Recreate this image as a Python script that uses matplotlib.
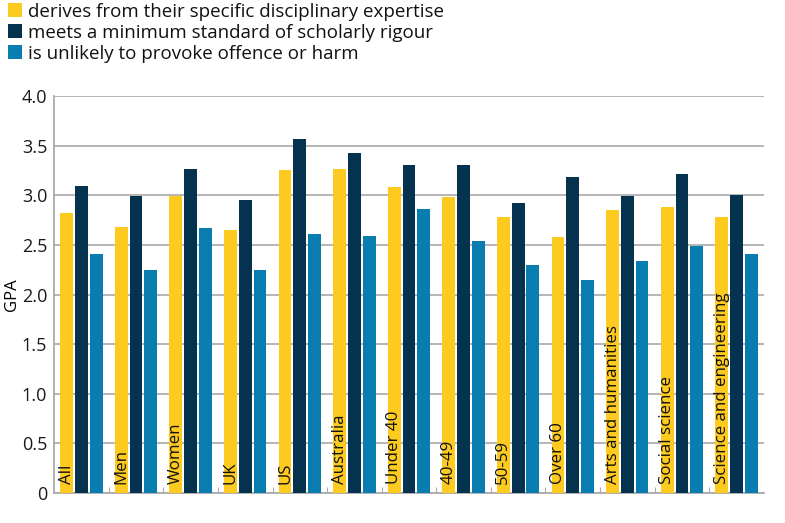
import matplotlib.pyplot as plt
import numpy as np

plt.rcParams['font.family'] = ['Open Sans', 'DejaVu Sans']

categories = ["All", "Men", "Women", "UK", "US", "Australia", "Under 40",
              "40-49", "50-59", "Over 60", "Arts and humanities",
              "Social science", "Science and engineering"]
expertise = [2.82, 2.68, 2.99, 2.65, 3.25, 3.26, 3.08, 2.98, 2.78, 2.58, 2.85, 2.88, 2.78]
rigour = [3.09, 2.99, 3.26, 2.95, 3.57, 3.43, 3.30, 3.30, 2.92, 3.18, 2.99, 3.21, 3.00]
harm = [2.41, 2.25, 2.67, 2.25, 2.61, 2.59, 2.86, 2.54, 2.30, 2.15, 2.34, 2.49, 2.41]
series_names = ["derives from their specific disciplinary expertise",
                "meets a minimum standard of scholarly rigour",
                "is unlikely to provoke offence or harm"]
colors = ["#fdcb1f", "#04324f", "#0a7db0"]

fig = plt.figure(figsize=(7.85, 5.23), dpi=100)
ax = fig.add_axes([0.069, 0.0574, 0.904, 0.759])

x = np.arange(len(categories))
w = 0.235
step = 0.27
for i, (vals, name, c) in enumerate(zip([expertise, rigour, harm], series_names, colors)):
    ax.bar(x + (i - 1) * step, vals, width=w, color=c, label=name, zorder=3)

for xi, cat in zip(x, categories):
    ax.text(xi - step, 0.09, cat, rotation=90, ha="center", va="bottom",
            fontsize=12.2, color="#111111", zorder=4)

ax.set_xlim(-0.5, len(categories) - 0.5)
ax.set_ylim(0, 4.0)
ax.set_yticks(np.arange(0, 4.01, 0.5))
ax.set_yticklabels(["0"] + ["%.1f" % v for v in np.arange(0.5, 4.01, 0.5)])
ax.set_xticks(np.arange(0.5, len(categories) - 1, 1))
ax.set_xticklabels([])
ax.tick_params(axis="x", direction="in", length=4, color="#aaaaaa")
ax.tick_params(axis="y", length=0, labelsize=13, pad=5, colors="#1a1a1a")
ax.grid(axis="y", color="#b0b0b0", linewidth=1.3, zorder=0)
for s in ["top", "right"]:
    ax.spines[s].set_visible(False)
for s in ["left", "bottom"]:
    ax.spines[s].set_color("#aaaaaa")
    ax.spines[s].set_linewidth(1.3)
ax.set_ylabel("GPA", fontsize=12, labelpad=1)

leg = fig.legend(loc="upper left", bbox_to_anchor=(-0.004, 1.016), frameon=False,
                 fontsize=13.5, handlelength=0.75, handleheight=0.75, handletextpad=0.3,
                 labelspacing=0.15, borderaxespad=0.2)
for t in leg.get_texts():
    t.set_color("#111111")

plt.savefig("out.png")
plt.close()
